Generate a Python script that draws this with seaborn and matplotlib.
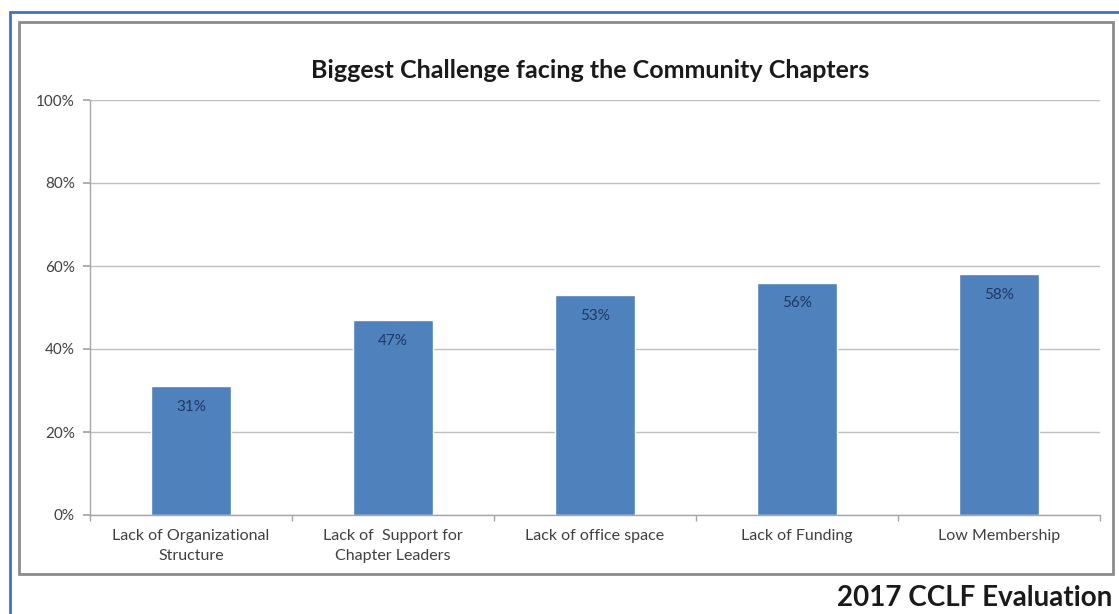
import matplotlib
matplotlib.use("Agg")
import matplotlib.pyplot as plt
import matplotlib.patches as mpatches
from matplotlib.ticker import FixedLocator, PercentFormatter
import seaborn as sns
import pandas as pd

categories = ["Lack of Organizational\nStructure", "Lack of  Support for\nChapter Leaders",
              "Lack of office space", "Lack of Funding", "Low Membership"]
values = [31, 47, 53, 56, 58]
yticks = [0, 20, 40, 60, 80, 100]
title = "Biggest Challenge facing the Community Chapters"
footer = "2017 CCLF Evaluation"

sns.set_theme(style="white")
plt.rcParams['font.family'] = ['Lato', 'DejaVu Sans']

W, H = 1119, 614
fig = plt.figure(figsize=(W / 100, H / 100), dpi=100)
fig.patch.set_facecolor("white")

# outer blue border (right/bottom clipped)
fig.add_artist(mpatches.Rectangle((10 / W, -0.05), 1.2, 1 - 12 / H + 0.05,
                                  transform=fig.transFigure, fill=False,
                                  edgecolor="#4472c4", linewidth=2.0))
# gray chart area border
fig.add_artist(mpatches.Rectangle((19 / W, 1 - 574 / H), (1113 - 19) / W, (574 - 22) / H,
                                  transform=fig.transFigure, fill=False,
                                  edgecolor="#8c8c8c", linewidth=2.0))

ax = fig.add_axes([90 / W, 1 - 515 / H, (1100 - 90) / W, (515 - 100) / H])
df = pd.DataFrame({"cat": categories, "val": values})
sns.barplot(data=df, x="cat", y="val", color="#4f81bd", saturation=1, width=0.4, ax=ax)

ax.set_ylim(0, 100)
ax.set_xlim(-0.5, len(categories) - 0.5)
ax.yaxis.set_major_locator(FixedLocator(yticks))
ax.yaxis.set_major_formatter(PercentFormatter(decimals=0))
ax.set_xlabel("")
ax.set_ylabel("")
ax.grid(axis="y", color="#bfbfbf", linewidth=1)
ax.set_axisbelow(True)
for s in ["top", "right"]:
    ax.spines[s].set_visible(False)
for s in ["left", "bottom"]:
    ax.spines[s].set_color("#a6a6a6")
    ax.spines[s].set_linewidth(1)

ax.tick_params(axis="y", length=5, color="#a6a6a6", direction="out", labelsize=11,
               labelcolor="#404040", pad=6, left=True)
ax.tick_params(axis="x", which="major", length=0, labelsize=11.5, labelcolor="#404040", pad=10)
ax.xaxis.set_minor_locator(FixedLocator([i + 0.5 for i in range(-1, len(categories))]))
ax.tick_params(axis="x", which="minor", length=4, color="#a6a6a6", direction="out", bottom=True)
for lbl in ax.get_xticklabels():
    lbl.set_linespacing(1.6)

for p, v in zip(ax.patches, values):
    ax.text(p.get_x() + p.get_width() / 2, v - 5, f"{v}%", ha="center", va="center",
            fontsize=11, color="#1f3864")

fig.text(590 / W, 1 - 70 / H, title, ha="center", va="center", fontsize=18,
         fontweight="bold", color="#1a1a1a")
fig.text(1112 / W, 1 - 598 / H, footer, ha="right", va="center", fontsize=20,
         fontweight="bold", color="#1a1a1a")

fig.savefig("out.png", dpi=100, facecolor="white")
